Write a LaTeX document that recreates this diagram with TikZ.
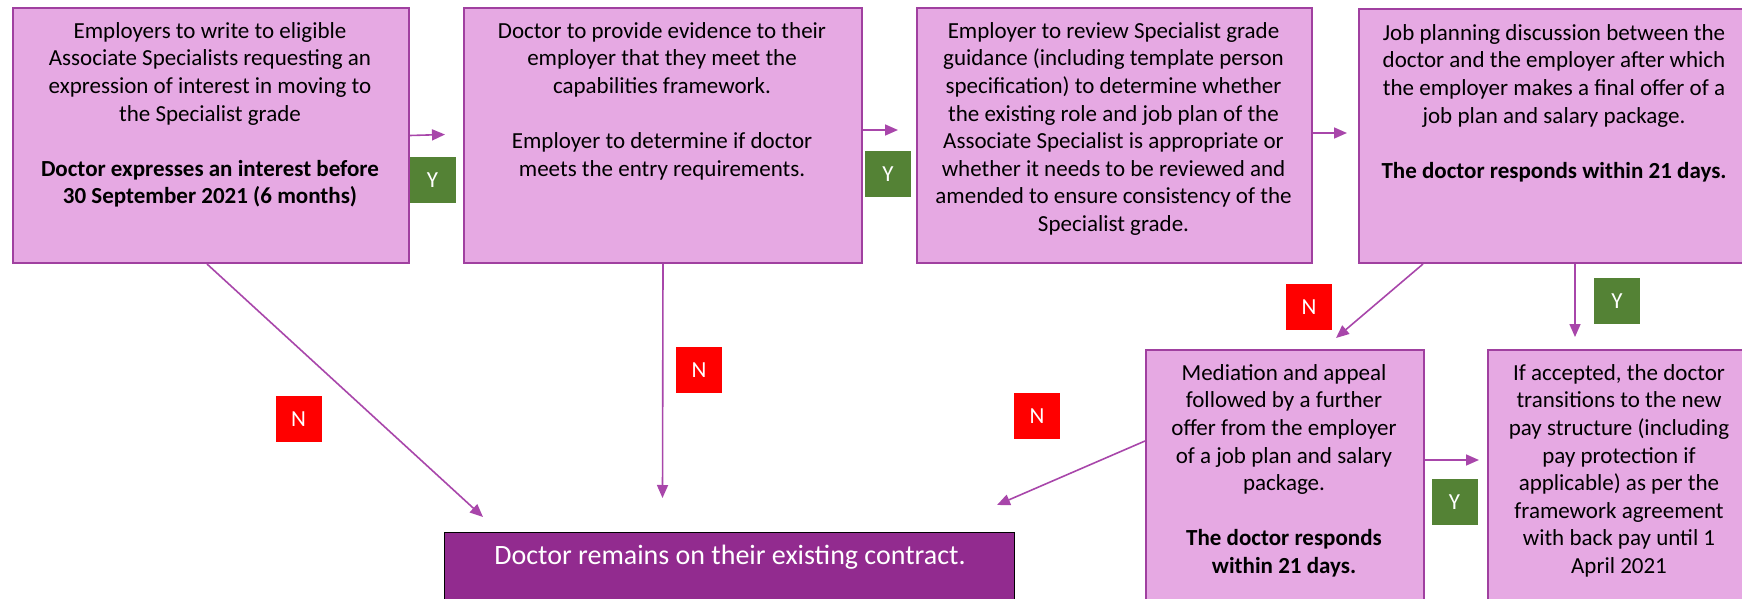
\documentclass[tikz,border=0pt]{standalone}
\usepackage{fontspec}
\setmainfont{Carlito}
\usetikzlibrary{arrows.meta}

\definecolor{boxfill}{HTML}{E6A9E3}
\definecolor{boxline}{HTML}{A040A0}
\definecolor{flowline}{HTML}{A846AA}
\definecolor{yesgreen}{HTML}{548235}
\definecolor{nored}{HTML}{FF0000}
\definecolor{outcome}{HTML}{922B8F}

\begin{document}
\begin{tikzpicture}[x=0.5pt,y=-0.5pt,
  stepbox/.style={draw=boxline, fill=boxfill, line width=1pt, rectangle,
    anchor=north west, inner sep=0pt},
  boxtext/.style={anchor=north, align=center, inner sep=0pt,
    font=\fontsize{11.5}{13.8}\selectfont},
  flow/.style={draw=flowline, line width=0.8pt,
    -{Triangle[length=6.5pt,width=5.5pt]}},
  tag/.style={text=white, minimum width=23pt, minimum height=23pt,
    inner sep=0pt, font=\fontsize{11.5}{13.8}\selectfont},
  yes/.style={tag, fill=yesgreen},
  no/.style={tag, fill=nored}
]
\useasboundingbox (0,0) rectangle (1742,599);
\clip (0,0) rectangle (1742,599);

% process steps
\node[stepbox, minimum width=198pt, minimum height=127.5pt] (b1) at (12,7) {};
\node[stepbox, minimum width=199pt, minimum height=127.5pt] (b2) at (463,7) {};
\node[stepbox, minimum width=197.5pt, minimum height=127.5pt] (b3) at (916,7) {};
\node[stepbox, minimum width=196pt, minimum height=127pt] (b4) at (1358,8) {};
\node[stepbox, minimum width=139pt, minimum height=140pt] (med) at (1145,349) {};
\node[stepbox, minimum width=132pt, minimum height=140pt] (acc) at (1487,349) {};
\node[draw=black, fill=outcome, line width=0.6pt, anchor=north west,
  minimum width=285pt, minimum height=40pt, inner sep=0pt] (rem) at (444,532) {};

% step texts
\node[boxtext] (t1) at (210,22) {Employers to write to eligible\\
  Associate Specialists requesting an\\
  expression of interest in moving to\\
  the Specialist grade\\[13.8pt]
  \textbf{Doctor expresses an interest before}\\
  \textbf{30 September 2021 (6 months)}};
\node[boxtext] (t2) at (662,22) {Doctor to provide evidence to their\\
  employer that they meet the\\
  capabilities framework.\\[13.8pt]
  Employer to determine if doctor\\
  meets the entry requirements.};
\node[boxtext] (t3) at (1113.5,22) {Employer to review Specialist grade\\
  guidance (including template person\\
  specification) to determine whether\\
  the existing role and job plan of the\\
  Associate Specialist is appropriate or\\
  whether it needs to be reviewed and\\
  amended to ensure consistency of the\\
  Specialist grade.};
\node[boxtext] (t4) at (1554,24) {Job planning discussion between the\\
  doctor and the employer after which\\
  the employer makes a final offer of a\\
  job plan and salary package.\\[13.8pt]
  \textbf{The doctor responds within 21 days.}};
\node[boxtext] (t5) at (1284,364) {Mediation and appeal\\
  followed by a further\\
  offer from the employer\\
  of a job plan and salary\\
  package.\\[13.8pt]
  \textbf{The doctor responds}\\
  \textbf{within 21 days.}};
\node[boxtext] (t6) at (1619,364) {If accepted, the doctor\\
  transitions to the new\\
  pay structure (including\\
  pay protection if\\
  applicable) as per the\\
  framework agreement\\
  with back pay until 1\\
  April 2021};
\node[text=white, inner sep=0pt, font=\fontsize{14}{17}\selectfont]
  (t7) at (730,557) {Doctor remains on their existing contract.};

% connector ends
\coordinate (e12) at (445,134.5);
\coordinate (e23) at (898,130);
\coordinate (e34) at (1347,133);
\coordinate (r1) at (483,517);
\coordinate (r2) at (662.5,498);
\coordinate (r3) at (997,505);
\coordinate (m1) at (1336,338);
\coordinate (a1) at (1575,337);
\coordinate (a2) at (1479,460);

% connectors
\draw[flow] (b1.east) -- (e12);
\draw[flow] (b2.east |- e23) -- (e23);
\draw[flow] (b3.east |- e34) -- (e34);
\draw[flow] ([xshift=-2pt]b1.south) -- (r1);
\draw[flow] (b2.south) -- (r2);
\draw[flow] ([yshift=-46pt]med.north west) -- (r3);
\draw[flow] ([xshift=32.5pt]b4.south west) -- (m1);
\draw[flow] ([xshift=108.5pt]b4.south west) -- (a1);
\draw[flow] (med.east |- a2) -- (a2);

% decision tags
\node[yes] (y1) at (432.5,180) {Y};
\node[yes] (y2) at (888,174) {Y};
\node[yes] (y3) at (1454.5,502) {Y};
\node[yes] (y4) at (1617,301) {Y};
\node[no] (n1) at (298.5,419) {N};
\node[no] (n2) at (699,370) {N};
\node[no] (n3) at (1037,416) {N};
\node[no] (n4) at (1309,307) {N};
\end{tikzpicture}
\end{document}
